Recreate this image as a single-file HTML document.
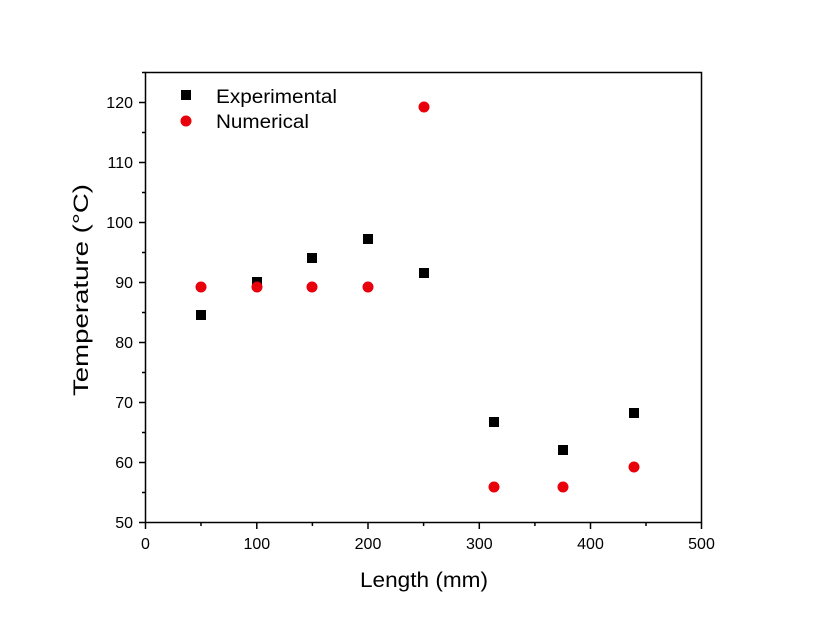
<!DOCTYPE html>
<html><head><style>body{margin:0;background:#fff}</style></head><body>
<svg width="814" height="628" xmlns="http://www.w3.org/2000/svg" font-family="Liberation Sans, Arial, sans-serif">
<rect width="814" height="628" fill="#fff"/>
<rect x="145.5" y="72.5" width="556" height="450" fill="none" stroke="#000" stroke-width="1.5"/>
<g stroke="#000" stroke-width="1.5">
<line x1="145.5" y1="522.5" x2="145.5" y2="529"/><line x1="256.8" y1="522.5" x2="256.8" y2="529"/><line x1="368" y1="522.5" x2="368" y2="529"/><line x1="479.3" y1="522.5" x2="479.3" y2="529"/><line x1="590.5" y1="522.5" x2="590.5" y2="529"/><line x1="701.5" y1="522.5" x2="701.5" y2="529"/>
<line x1="201" y1="522.5" x2="201" y2="526"/><line x1="312.4" y1="522.5" x2="312.4" y2="526"/><line x1="423.6" y1="522.5" x2="423.6" y2="526"/><line x1="534.9" y1="522.5" x2="534.9" y2="526"/><line x1="646" y1="522.5" x2="646" y2="526"/>
<line x1="139" y1="522.5" x2="145.5" y2="522.5"/><line x1="139" y1="462.5" x2="145.5" y2="462.5"/><line x1="139" y1="402.5" x2="145.5" y2="402.5"/><line x1="139" y1="342.5" x2="145.5" y2="342.5"/><line x1="139" y1="282.5" x2="145.5" y2="282.5"/><line x1="139" y1="222.5" x2="145.5" y2="222.5"/><line x1="139" y1="162.5" x2="145.5" y2="162.5"/><line x1="139" y1="102.5" x2="145.5" y2="102.5"/>
<line x1="142" y1="492.5" x2="145.5" y2="492.5"/><line x1="142" y1="432.5" x2="145.5" y2="432.5"/><line x1="142" y1="372.5" x2="145.5" y2="372.5"/><line x1="142" y1="312.5" x2="145.5" y2="312.5"/><line x1="142" y1="252.5" x2="145.5" y2="252.5"/><line x1="142" y1="192.5" x2="145.5" y2="192.5"/><line x1="142" y1="132.5" x2="145.5" y2="132.5"/><line x1="142" y1="72.5" x2="145.5" y2="72.5"/>
</g>
<g font-size="16" text-anchor="middle">
<text x="145.5" y="549">0</text><text x="256.8" y="549">100</text><text x="368" y="549">200</text><text x="479.3" y="549">300</text><text x="590.5" y="549">400</text><text x="701.5" y="549">500</text>
</g>
<g font-size="16" text-anchor="end">
<text x="133" y="528">50</text><text x="133" y="468">60</text><text x="133" y="408">70</text><text x="133" y="348">80</text><text x="133" y="288">90</text><text x="133" y="228">100</text><text x="133" y="168">110</text><text x="133" y="108">120</text>
</g>
<text x="360" y="587" font-size="21" textLength="128" lengthAdjust="spacingAndGlyphs">Length (mm)</text>
<text transform="translate(88,396) rotate(-90)" font-size="21" textLength="212" lengthAdjust="spacingAndGlyphs">Temperature (°C)</text>
<g fill="#000">
<rect x="181" y="90" width="10" height="10"/>
<rect x="196" y="310" width="10" height="10"/>
<rect x="252" y="277" width="10" height="10"/>
<rect x="307" y="253" width="10" height="10"/>
<rect x="363" y="234" width="10" height="10"/>
<rect x="419" y="268" width="10" height="10"/>
<rect x="489" y="417" width="10" height="10"/>
<rect x="558" y="445" width="10" height="10"/>
<rect x="629" y="408" width="10" height="10"/>
</g>
<g fill="#e8000b">
<circle cx="186" cy="121" r="5.5"/>
<circle cx="201" cy="287" r="5.5"/>
<circle cx="257" cy="287" r="5.5"/>
<circle cx="312" cy="287" r="5.5"/>
<circle cx="368" cy="287" r="5.5"/>
<circle cx="424" cy="107" r="5.5"/>
<circle cx="494" cy="487" r="5.5"/>
<circle cx="563" cy="487" r="5.5"/>
<circle cx="634" cy="467" r="5.5"/>
</g>
<text x="216" y="103" font-size="19" textLength="121" lengthAdjust="spacingAndGlyphs">Experimental</text>
<text x="216" y="128" font-size="19" textLength="93" lengthAdjust="spacingAndGlyphs">Numerical</text>
</svg>
</body></html>
